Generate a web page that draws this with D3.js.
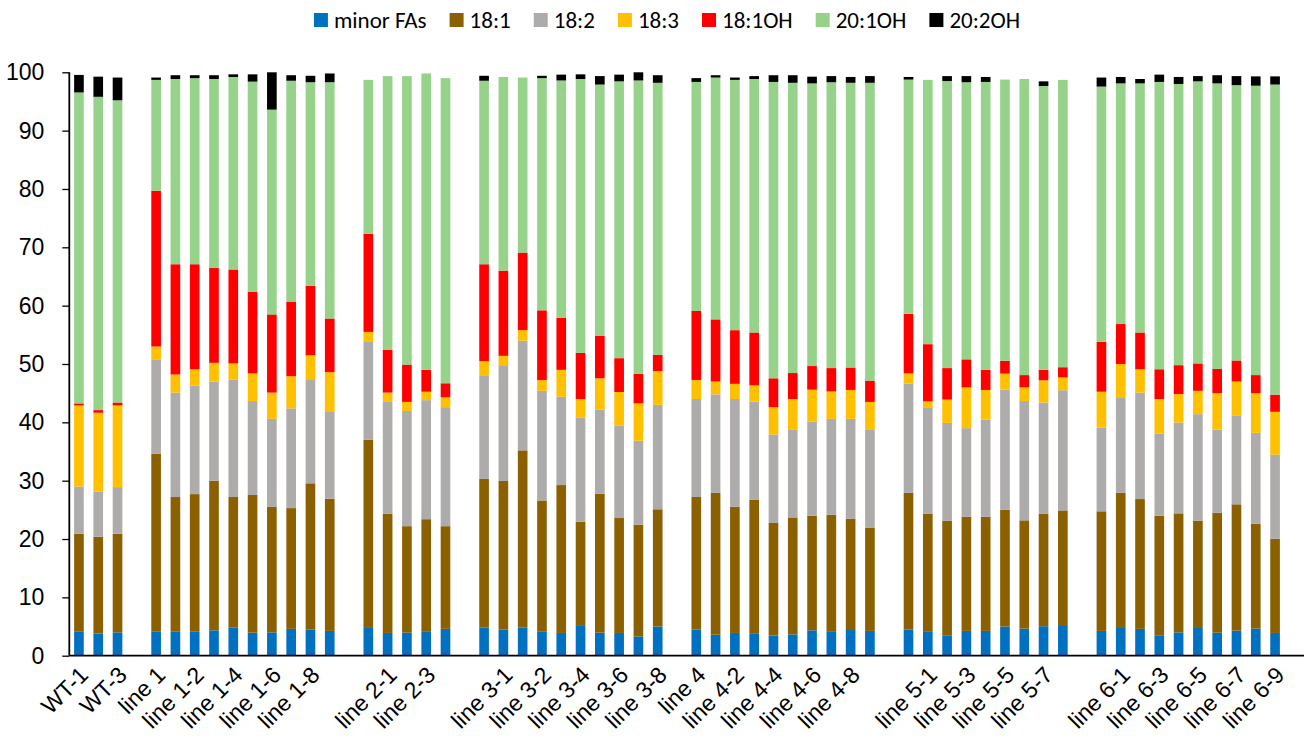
<!DOCTYPE html>
<html>
<head>
<meta charset="utf-8">
<script src="https://cdn.jsdelivr.net/npm/d3@7"></script>
<style>
  html, body { margin: 0; padding: 0; background: #fff; }
  svg { display: block; font-family: Carlito, Calibri, Lato, "Open Sans", sans-serif; }
</style>
</head>
<body>
<svg id="chart" width="1304" height="740"></svg>
<script>
// ---------------- DATA ----------------
const categories = [
  "WT-1","WT-2","WT-3","",
  "line 1","line 1-1","line 1-2","line 1-3","line 1-4","line 1-5","line 1-6","line 1-7","line 1-8","line 1-9","",
  "line 2","line 2-1","line 2-2","line 2-3","line 2-4","",
  "line 3","line 3-1","line 3-1b","line 3-2","line 3-3","line 3-4","line 3-5","line 3-6","line 3-7","line 3-8","",
  "line 4","line 4-1","line 4-2","line 4-3","line 4-4","line 4-5","line 4-6","line 4-7","line 4-8","line 4-9","",
  "line 5","line 5-1","line 5-2","line 5-3","line 5-4","line 5-5","line 5-6","line 5-7","line 5-8","",
  "line 6","line 6-1","line 6-2","line 6-3","line 6-4","line 6-5","line 6-6","line 6-7","line 6-8","line 6-9",""
];

const seriesNames = ["minor FAs","18:1","18:2","18:3","18:1OH","20:1OH","20:2OH"];

const minorFAs = [4.1,3.8,4.0,null, 4.1,4.1,4.1,4.35,4.8,3.95,4.0,4.6,4.5,4.25,null, 4.9,3.9,3.95,4.2,4.6,null, 4.8,4.5,4.85,4.1,3.9,5.1,3.95,3.9,3.3,5.0,null, 4.5,3.6,3.9,3.85,3.45,3.65,4.35,4.2,4.4,4.25,null, 4.5,4.2,3.5,4.25,4.25,5.0,4.65,5.05,5.25,null, 4.25,4.75,4.6,3.5,4.0,4.75,3.95,4.3,4.65,3.9,null];
const fa18_1 = [16.8,16.6,16.9,null, 30.5,23.1,23.6,25.65,22.4,23.6,21.5,20.7,25.05,22.65,null, 32.1,20.45,18.25,19.2,17.6,null, 25.5,25.45,30.35,22.5,25.35,17.85,23.8,19.7,19.15,20.1,null, 22.7,24.3,21.65,22.9,19.3,20.05,19.65,19.95,19.1,17.65,null, 23.4,20.1,19.6,19.55,19.55,20.0,18.55,19.25,19.65,null, 20.5,23.15,22.25,20.5,20.4,18.4,20.55,21.65,17.95,16.15,null];
const fa18_2 = [8.1,7.7,8.0,null, 16.2,17.9,18.6,17.0,20.1,16.1,15.1,17.1,17.7,15.0,null, 16.9,19.15,19.75,20.4,20.4,null, 17.65,19.85,18.8,18.8,15.15,17.9,14.45,15.8,14.4,17.9,null, 16.8,16.9,18.45,16.8,15.15,15.1,16.1,16.45,17.1,16.8,null, 18.7,18.15,16.8,15.2,16.65,20.6,20.45,19.1,20.6,null, 14.35,16.4,18.25,14.1,15.55,18.25,14.25,15.25,15.6,14.4,null];
const fa18_3 = [13.9,13.55,14.0,null, 2.2,3.1,2.8,3.2,2.8,4.75,4.5,5.5,4.25,6.7,null, 1.6,1.6,1.55,1.45,1.7,null, 2.55,1.6,1.8,1.85,4.6,3.15,5.35,5.8,6.4,5.8,null, 3.25,2.2,2.6,2.8,4.7,5.2,5.5,4.7,4.95,4.8,null, 1.8,1.15,4.0,7.0,5.1,2.75,2.35,3.8,2.2,null, 6.15,5.7,4.0,5.9,4.9,4.0,6.25,5.8,6.8,7.35,null];
const fa18_1OH = [0.35,0.45,0.5,null, 26.7,18.9,18.0,16.25,16.1,14.0,13.4,12.8,11.9,9.2,null, 16.8,7.3,6.4,3.75,2.4,null, 16.6,14.6,13.3,11.95,8.9,7.9,7.25,5.8,5.05,2.75,null, 11.85,10.65,9.2,9.05,4.95,4.45,4.05,4.0,3.85,3.65,null, 10.2,9.8,5.4,4.8,3.45,2.2,2.1,1.8,1.75,null, 8.55,6.85,6.3,5.1,4.95,4.7,4.15,3.6,3.1,2.95,null];
const fa20_1OH = [53.3,53.7,51.8,null, 19.0,31.75,31.9,32.4,33.0,36.0,35.1,37.85,34.9,40.5,null, 26.4,46.95,49.45,50.8,52.3,null, 31.45,33.2,30.0,39.8,40.7,46.95,43.1,47.45,50.3,46.65,null, 39.25,41.45,42.9,43.45,50.8,49.75,48.45,49.0,48.8,51.05,null, 40.15,45.3,49.2,47.5,49.35,48.2,50.75,48.65,49.25,null, 43.75,41.25,42.7,49.25,48.2,48.35,48.95,47.2,49.6,53.15,null];
const fa20_2OH = [3.0,3.45,3.9,null, 0.4,0.65,0.5,0.65,0.45,1.25,6.4,0.95,1.1,1.5,null, 0,0,0,0,0,null, 0.85,0,0,0.4,1.0,0.8,1.45,1.15,1.4,1.3,null, 0.65,0.4,0.4,0.5,1.15,1.3,1.15,1.05,1.0,1.15,null, 0.45,0,0.85,1.05,0.85,0,0,0.8,0,null, 1.55,1.1,0.75,1.25,1.2,0.9,1.4,1.55,1.6,1.4,null];

const yTicks = [0,10,20,30,40,50,60,70,80,90,100];

const seriesValues = [minorFAs, fa18_1, fa18_2, fa18_3, fa18_1OH, fa20_1OH, fa20_2OH];
const colors = ["#0070C0","#8B6000","#AEABAB","#FFC000","#FF0000","#97D28B","#000000"];

// ---------------- LAYOUT ----------------
const svg = d3.select("#chart");
const plot = { left: 69.3, right: 1304, top: 72.3, bottom: 655.7 };
const fontSize = 23;

const idx = d3.range(categories.length);
const x = d3.scaleBand().domain(idx).range([plot.left, plot.right]).paddingInner(0.5).paddingOuter(0.25);
const y = d3.scaleLinear().domain([0, 100]).range([plot.bottom, plot.top]);

const rows = idx.filter(i => seriesValues[0][i] !== null).map(i => {
  const r = { i };
  seriesNames.forEach((s, k) => r[s] = seriesValues[k][i]);
  return r;
});
const stacked = d3.stack().keys(seriesNames)(rows);

const gBars = svg.append("g");
stacked.forEach((layer, k) => {
  gBars.append("g").attr("fill", colors[k])
    .selectAll("rect").data(layer.filter(d => d[1] - d[0] > 0)).join("rect")
    .attr("x", d => x(d.data.i))
    .attr("width", x.bandwidth())
    .attr("y", d => y(d[1]))
    .attr("height", d => y(d[0]) - y(d[1]));
});

// Y axis
const yAxis = d3.axisLeft(y).tickValues(yTicks).tickSize(7).tickPadding(18).tickFormat(d3.format("d"));
const gy = svg.append("g").attr("transform", `translate(${plot.left},0)`).call(yAxis);
gy.select(".domain").attr("stroke", "#000").attr("stroke-width", 1.8).attr("d", `M0,${plot.top}V${plot.bottom}`);
gy.selectAll(".tick line").attr("stroke", "#000").attr("stroke-width", 1.3);
gy.selectAll(".tick text").attr("font-size", fontSize).attr("fill", "#000").attr("font-family", null);

// X axis
const labelIdx = idx.filter(i => i % 2 === 0 && categories[i] !== "");
const xAxis = d3.axisBottom(x).tickValues(labelIdx).tickSize(0).tickFormat(i => categories[i]);
const gx = svg.append("g").attr("transform", `translate(0,${plot.bottom})`).call(xAxis);
gx.select(".domain").attr("stroke", "#000").attr("stroke-width", 1.8).attr("d", `M${plot.left},0H${plot.right}`);
gx.selectAll(".tick text")
  .attr("font-size", fontSize).attr("fill", "#000").attr("font-family", null)
  .attr("text-anchor", "end")
  .attr("y", 0).attr("dy", "0.35em")
  .attr("transform", "translate(5,15) rotate(-45)");

// Legend
const legend = svg.append("g");
const sw = 14, gapT = 6, gapItem = 23;
let cx = 0;
seriesNames.forEach((s, k) => {
  const g = legend.append("g");
  g.append("rect").attr("x", 0).attr("y", -sw / 2).attr("width", sw).attr("height", sw).attr("fill", colors[k]);
  const t = g.append("text").attr("x", sw + gapT).attr("y", 0).attr("dy", "0.35em")
    .attr("font-size", fontSize).attr("fill", "#000").text(s);
  const w = sw + gapT + t.node().getComputedTextLength();
  g.attr("transform", `translate(${cx},20)`);
  cx += w + gapItem;
});
const totalW = cx - gapItem;
legend.attr("transform", `translate(${667 - totalW / 2},0)`);
</script>
</body>
</html>
